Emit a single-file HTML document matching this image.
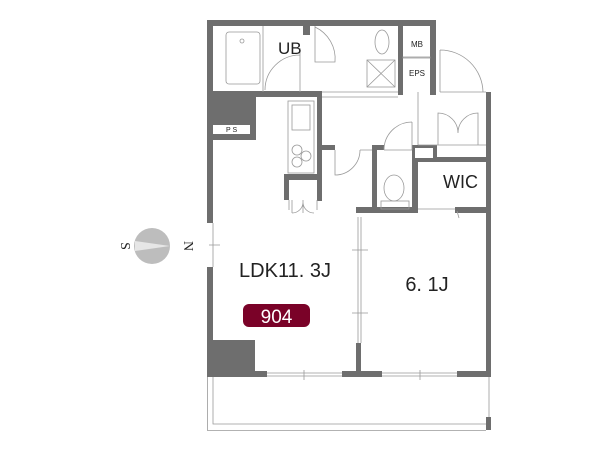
<!DOCTYPE html><html><head><style>body{margin:0;background:#fff}svg{display:block}text{font-family:"Liberation Sans",sans-serif;fill:#222}</style></head><body>
<svg width="600" height="450" viewBox="0 0 600 450" xmlns="http://www.w3.org/2000/svg">
<g fill="#6e6e6e">
<rect x="207" y="20" width="229" height="6"/>
<rect x="207" y="20" width="6" height="72"/>
<rect x="300" y="26" width="10" height="9"/>
<rect x="300" y="26" width="3" height="22" fill="#fff"/>
<rect x="398" y="20" width="5" height="75"/>
<rect x="430" y="20" width="6" height="75"/>
<rect x="207" y="91" width="115" height="6"/>
<rect x="207" y="91" width="49" height="49"/>
<rect x="207" y="140" width="6" height="83"/>
<rect x="207" y="267" width="6" height="110"/>
<rect x="317" y="91" width="5" height="110"/>
<rect x="284" y="174" width="38" height="6"/>
<rect x="284" y="174" width="5" height="26"/>
<rect x="317" y="145" width="18" height="5"/>
<rect x="372" y="145" width="5" height="68"/>
<rect x="372" y="145" width="12" height="5"/>
<rect x="412" y="145" width="6" height="68"/>
<rect x="412" y="145" width="25" height="17"/>
<rect x="418" y="157" width="68" height="5"/>
<rect x="486" y="92" width="5" height="285"/>
<rect x="356" y="207" width="62" height="6"/>
<rect x="455" y="207" width="36" height="6"/>
<rect x="356" y="343" width="5" height="34"/>
<rect x="207" y="340" width="48" height="37"/>
<rect x="207" y="371" width="60" height="6"/>
<rect x="342" y="371" width="40" height="6"/>
<rect x="457" y="371" width="34" height="6"/>
<rect x="486" y="417" width="5" height="13"/>
</g>
<rect x="213" y="125" width="37" height="9" fill="#fff"/>
<rect x="415" y="148" width="18" height="10" fill="#fff"/>
<g fill="none" stroke="#999" stroke-width="0.8">
<rect x="226" y="32" width="34" height="52" rx="3"/>
<circle cx="242" cy="41" r="2"/>
<path d="M263 26V92M300 48V92M265 90A35 35 0 0 1 300 55"/>
<path d="M315 26V62H335A35 35 0 0 0 315 27"/>
<ellipse cx="382" cy="42" rx="7" ry="12"/>
<rect x="367" y="60" width="28" height="27"/><path d="M367 60L395 87M395 60L367 87"/>
<rect x="403" y="57" width="27" height="1"/>
<path d="M322 92H398M322 97H398M440 92H486M440 50A43 43 0 0 1 483 92M440 50V92"/>
<rect x="288" y="101" width="26" height="72"/>
<rect x="292" y="105" width="18" height="25"/>
<circle cx="297" cy="150" r="5"/><circle cx="306" cy="156" r="5"/><circle cx="297" cy="162" r="5"/>
<path d="M289 200V210M317 200V210M292 200V213M303 200V213M292 213A11 11 0 0 0 303 203M314 213A11 11 0 0 1 303 203"/>
<path d="M335 150V175A25 25 0 0 0 360 150M360 150H372"/>
<path d="M384 150H412M384 150A28 28 0 0 1 412 122M412 122V150"/>
<path d="M418 92V145M418 145H486M438 145V113A20 20 0 0 1 458 133M478 145V113A20 20 0 0 0 458 133"/>
<ellipse cx="394" cy="188" rx="10" ry="13"/>
<rect x="381" y="201" width="28" height="8"/>
<path d="M418 209H455M457 211L459 218"/>
<path d="M213 223V267M209 245H220M358 217V343M361 217V343M352 250H368M352 313H368"/>
<path d="M267 373H342M267 376H342M304 370V380M382 373H457M382 376H457M420 370V380"/>
<path d="M207.5 377V430.5H486M213 377V424H486M489 377V417"/>
</g>
<text x="278" y="54" font-size="17">UB</text>
<text x="417" y="47" font-size="8" text-anchor="middle">MB</text>
<text x="417" y="76" font-size="8" text-anchor="middle">EPS</text>
<text x="226" y="132" font-size="7">P S</text>
<text x="443" y="188" font-size="18">WIC</text>
<text x="285" y="277" font-size="20" text-anchor="middle">LDK11. 3J</text>
<text x="427" y="291" font-size="20" text-anchor="middle">6. 1J</text>
<rect x="243" y="304" width="67" height="23" rx="6" fill="#7a0228"/>
<text x="276.5" y="323" font-size="19" text-anchor="middle" style="fill:#fff">904</text>
<circle cx="152" cy="246" r="18" fill="#bdbdbd"/>
<path d="M135 241L170 246L135 251Z" fill="#e6e6e6"/>
<text x="121" y="246" font-size="14" transform="rotate(90 121 246)" text-anchor="middle" style="font-family:'Liberation Serif',serif">S</text>
<text x="184" y="246" font-size="14" transform="rotate(90 184 246)" text-anchor="middle" style="font-family:'Liberation Serif',serif">N</text>
</svg></body></html>
